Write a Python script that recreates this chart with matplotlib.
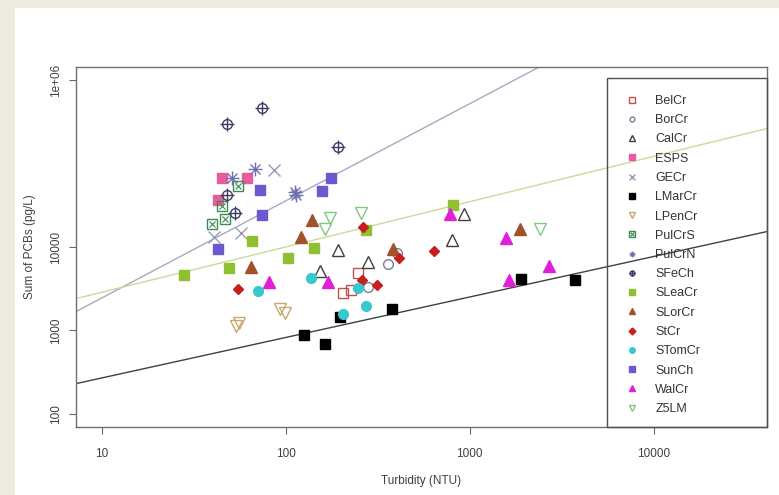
import numpy as np
import matplotlib
matplotlib.use("Agg")
import matplotlib.pyplot as plt
from matplotlib.lines import Line2D
from matplotlib.patches import Rectangle

plt.rcParams['font.family'] = ['Liberation Sans', 'DejaVu Sans']

# data (turbidity NTU, sum of PCBs pg/L)
belcr_x = [204, 226, 247]
belcr_y = [2840, 3080, 4930]
borcr_x = [279, 359, 401]
borcr_y = [3350, 6320, 8570]
calcr_x = [153, 192, 279, 798, 927]
calcr_y = [5210, 9310, 6680, 12300, 25200]
esps_x = [45, 62, 43]
esps_y = [68000, 68000, 37000]
gecr_x = [86, 41, 57]
gecr_y = [85000, 13300, 14900]
lmarcr_x = [126, 163, 197, 377, 1910, 3750]
lmarcr_y = [890, 690, 1460, 1820, 4180, 4060]
lpencr_x = [54, 56, 93, 99]
lpencr_y = [1140, 1240, 1820, 1630]
pulcrs_x = [55, 45, 47, 40]
pulcrs_y = [54600, 31400, 21900, 19100]
pulcrn_x = [51, 68, 112, 114]
pulcrn_y = [68100, 87400, 46300, 42600]
sfech_x = [74, 48, 192, 48, 53]
sfech_y = [472000, 303000, 160000, 42600, 25900]
sleacr_x = [28, 49, 66, 103, 142, 272, 808]
sleacr_y = [4660, 5660, 11900, 7460, 9840, 16200, 32300]
slorcr_x = [65, 121, 139, 382, 1890]
slorcr_y = [5820, 13300, 20800, 9570, 16600]
stcr_x = [55, 262, 411, 259, 313, 637]
stcr_y = [3170, 17600, 7460, 4060, 3540, 9050]
stomcr_x = [71, 137, 204, 247, 272]
stomcr_y = [3000, 4290, 1590, 3250, 1980]
sunch_x = [73, 74, 43, 157, 176]
sunch_y = [48900, 24500, 9570, 47600, 68100]
walcr_x = [81, 169, 778, 1570, 1630, 2710]
walcr_y = [3840, 3840, 25200, 13000, 4060, 5980]
z5lm_x = [163, 174, 256, 2420]
z5lm_y = [16600, 22500, 25900, 16600]

# fitted lines, log10(y) = a + b*log10(x)
fit_gray = [2.221, 1.166]
fit_green = [2.913, 0.5435]
fit_black = [1.942, 0.486]

x_ticks = [10, 100, 1000, 10000]
x_ticklabels = ['10', '100', '1000', '10000']
y_ticks = [100, 1000, 10000, 1e6]
y_ticklabels = ['100', '1000', '10000', '1e+06']

fig = plt.figure(figsize=(7.79, 4.95), dpi=100, facecolor='#eeebe0')
fig.patches.append(Rectangle((15/779, 0), 1, 1 - 8/495, transform=fig.transFigure,
                             facecolor='white', edgecolor='none', zorder=-10))
ax = fig.add_axes([76/779, (495-427)/495, (767-76)/779, (427-67)/495])
ax.set_xscale('log')
ax.set_yscale('log')
ax.set_xlim(10**0.861, 10**4.616)
ax.set_ylim(10**1.84, 10**6.16)

# regression lines
xx = np.logspace(0.8, 4.7, 50)
ax.plot(xx, 10**(fit_gray[0] + fit_gray[1]*np.log10(xx)), color='#a8a8c4', lw=1)
ax.plot(xx, 10**(fit_green[0] + fit_green[1]*np.log10(xx)), color='#c8dc98', lw=1)
ax.plot(xx, 10**(fit_black[0] + fit_black[1]*np.log10(xx)), color='#404040', lw=1)

def pts(x, y, legend_ms, **kw):
    ms = kw.pop('ms')
    ax.plot(x, y, ls='none', ms=ms, **kw)
    return Line2D([], [], ls='none', ms=legend_ms, **kw)

handles = []
labels = []

h = pts(belcr_x, belcr_y, 4, marker='s', mfc='none', mec='#c0504d', mew=1, ms=7)
handles.append(h); labels.append('BelCr')
h = pts(borcr_x, borcr_y, 3.5, marker='o', mfc='none', mec='#7b7b9b', mew=1, ms=7)
handles.append(h); labels.append('BorCr')
h = pts(calcr_x, calcr_y, 4.5, marker='^', mfc='none', mec='#404040', mew=1, ms=9)
handles.append(h); labels.append('CalCr')
h = pts(esps_x, esps_y, 4, marker='s', color='#e65c9c', ms=7)
handles.append(h); labels.append('ESPS')
h = pts(gecr_x, gecr_y, 4.5, marker='x', color='#9a9ab8', mew=1, ms=8)
handles.append(h); labels.append('GECr')
h = pts(lmarcr_x, lmarcr_y, 4, marker='s', color='black', ms=6.5)
handles.append(h); labels.append('LMarCr')
h = pts(lpencr_x, lpencr_y, 4.5, marker='v', mfc='none', mec='#c8a870', mew=1, ms=9)
handles.append(h); labels.append('LPenCr')
h1 = pts(pulcrs_x, pulcrs_y, 4, marker='s', mfc='none', mec='#3c8c50', mew=1, ms=7)
h2 = pts(pulcrs_x, pulcrs_y, 3, marker='x', color='#3c8c50', mew=0.8, ms=5)
handles.append((h1, h2)); labels.append('PulCrS')
h1 = pts(pulcrn_x, pulcrn_y, 4.5, marker='+', color='#7070b0', mew=1, ms=10)
h2 = pts(pulcrn_x, pulcrn_y, 3.5, marker='x', color='#7070b0', mew=1, ms=7)
handles.append((h1, h2)); labels.append('PulCrN')
h1 = pts(sfech_x, sfech_y, 3.5, marker='o', mfc='none', mec='#3c3c64', mew=1, ms=7)
h2 = pts(sfech_x, sfech_y, 5, marker='+', color='#3c3c64', mew=1, ms=10)
handles.append((h1, h2)); labels.append('SFeCh')
h = pts(sleacr_x, sleacr_y, 4, marker='s', color='#90c030', ms=7)
handles.append(h); labels.append('SLeaCr')
h = pts(slorcr_x, slorcr_y, 4.5, marker='^', color='#a0522d', ms=8)
handles.append(h); labels.append('SLorCr')
h = pts(stcr_x, stcr_y, 3.5, marker='D', color='#c81e1e', ms=5)
handles.append(h); labels.append('StCr')
h = pts(stomcr_x, stomcr_y, 4, marker='o', color='#38c8d0', ms=7)
handles.append(h); labels.append('STomCr')
h = pts(sunch_x, sunch_y, 4, marker='s', color='#6a5acd', ms=7)
handles.append(h); labels.append('SunCh')
h = pts(walcr_x, walcr_y, 4.5, marker='^', color='#e020d8', ms=8)
handles.append(h); labels.append('WalCr')
h = pts(z5lm_x, z5lm_y, 4.5, marker='v', mfc='none', mec='#80c880', mew=1, ms=9)
handles.append(h); labels.append('Z5LM')

ax.set_xticks(x_ticks)
ax.set_xticklabels(x_ticklabels)
ax.set_yticks(y_ticks)
ax.set_yticklabels(y_ticklabels, rotation=90, va='center')
ax.minorticks_off()
ax.tick_params(direction='out', length=5, width=0.8, colors='#666666',
               labelcolor='#404040', labelsize=8.5)
ax.tick_params(axis='x', pad=10)
ax.tick_params(axis='y', pad=5)
for s in ax.spines.values():
    s.set_color('#707070')
    s.set_linewidth(1)
ax.set_xlabel('Turbidity (NTU)', fontsize=8.5, color='#404040', labelpad=11)
ax.set_ylabel('Sum of PCBs (pg/L)', fontsize=8.5, color='#404040', labelpad=10)

# legend box (no fill, lines show through)
fig.patches.append(Rectangle((607/779, (495-427)/495), (767-607)/779, (427-78)/495,
                             transform=fig.transFigure, facecolor='none',
                             edgecolor='#505050', lw=1, zorder=3))
leg = fig.legend(handles, labels, loc='upper left',
                 bbox_to_anchor=(626/779, (495-95)/495), frameon=False,
                 fontsize=9, labelspacing=0.58, handlelength=1.0,
                 handletextpad=1.35, borderpad=0, borderaxespad=0)
leg.set_zorder(4)
for t in leg.get_texts():
    t.set_color('#333333')

fig.savefig('out.png', dpi=100, facecolor=fig.get_facecolor())
